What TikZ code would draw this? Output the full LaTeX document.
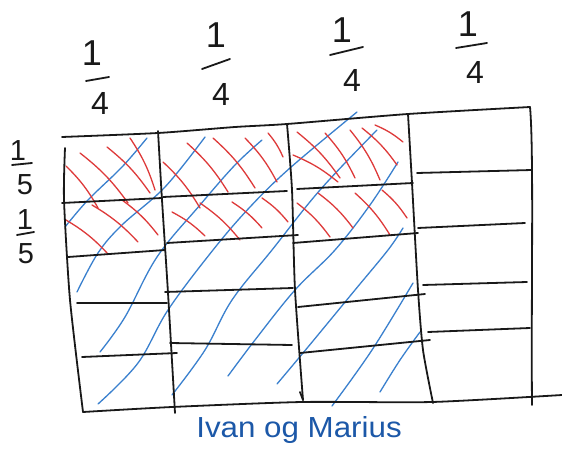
\documentclass[tikz,border=0pt]{standalone}
\usepackage{fontspec}
\usepackage{graphicx}
\setmainfont{Liberation Sans}
\definecolor{inkblack}{RGB}{25,25,25}
\definecolor{hatchred}{RGB}{222,58,58}
\definecolor{hatchblue}{RGB}{58,128,206}
\definecolor{captionblue}{RGB}{28,88,168}
\tikzset{
  gridline/.style={draw=inkblack,line width=1.8pt,line cap=round,line join=round},
  redhatch/.style={draw=hatchred,line width=1.3pt,line cap=round},
  bluehatch/.style={draw=hatchblue,line width=1.3pt,line cap=round},
  numtext/.style={inner sep=0pt,text=inkblack,font=\fontsize{36}{36}\selectfont},
  dentext/.style={inner sep=0pt,text=inkblack,font=\fontsize{32}{32}\selectfont},
  sidetext/.style={inner sep=0pt,text=inkblack,font=\fontsize{29}{29}\selectfont},
  fracbar/.style={draw=inkblack,line width=1.8pt,line cap=round},
}
\begin{document}
\begin{tikzpicture}[x=1pt,y=-1pt]
\useasboundingbox (0,0) rectangle (562,449);
\fill[white] (0,0) rectangle (562,449);

% ---- blue hatching
\draw[bluehatch] plot[smooth,tension=0.6] coordinates {(65,227) (88,200) (122,167) (147,138)};
\draw[bluehatch] plot[smooth,tension=0.6] coordinates {(77,292) (98,253) (122,225) (165,187) (205,137)};
\draw[bluehatch] plot[smooth,tension=0.6] coordinates {(100,352) (125,317) (157,257) (200,205) (235,165) (262,140)};
\draw[bluehatch] plot[smooth,tension=0.6] coordinates {(98,404) (138,363) (168,310) (213,250) (250,207) (290,168) (357,112)};
\draw[bluehatch] plot[smooth,tension=0.6] coordinates {(172,395) (205,350) (232,300) (272,250) (320,190) (377,130)};
\draw[bluehatch] plot[smooth,tension=0.6] coordinates {(228,376) (255,340) (295,290) (335,250) (370,205) (398,162)};
\draw[bluehatch] plot[smooth,tension=0.6] coordinates {(277,384) (308,347) (355,290) (388,250) (403,228)};
\draw[bluehatch] plot[smooth,tension=0.6] coordinates {(332,406) (372,350) (413,283)};
\draw[bluehatch] plot[smooth,tension=0.6] coordinates {(380,392) (400,360) (420,332)};

% ---- red hatching
\foreach \xa/\ya/\xb/\yb in {
  66/166/98/208, 80/153/128/203, 107/147/150/193, 130/138/155/190,
  66/220/108/254, 92/205/138/242, 122/200/158/235,
  163/162/200/208, 187/143/228/192, 213/138/255/188, 245/138/277/182, 268/133/283/157,
  172/212/205/236, 200/203/240/240, 232/202/262/228, 262/198/288/222,
  293/155/338/182, 297/132/340/178, 325/133/355/178, 350/130/380/180, 362/128/397/165, 375/125/403/142,
  297/203/330/237, 318/193/353/228, 355/193/390/235, 382/190/407/218}
  \draw[redhatch] (\xa,\ya) to[bend left=8] (\xb,\yb);

% ---- grid outline
\draw[gridline] plot[smooth,tension=0.4] coordinates {(62,137) (158,133) (235,127) (287,124) (408,114) (530,107)};
\draw[gridline] (530,107) .. controls (534,150) and (531,300) .. (532,405);
\draw[gridline] plot[smooth,tension=0.4] coordinates {(83,412) (172,407) (302,402) (432,402) (562,395)};
\draw[gridline] plot[smooth,tension=0.4] coordinates {(65,148) (64,200) (70,300) (83,412)};
% column lines
\draw[gridline] plot[smooth,tension=0.4] coordinates {(158,131) (162,200) (168,293) (175,413)};
\draw[gridline] plot[smooth,tension=0.4] coordinates {(287,124) (292,190) (295,290) (303,400)};
\draw[gridline] (303,400) -- (300,392);
\draw[gridline] plot[smooth,tension=0.4] coordinates {(408,114) (412,183) (418,290) (423,350) (433,403)};
% row lines, column 1
\draw[gridline] (62,203) -- (162,198);
\draw[gridline] (68,257) -- (165,250);
\draw[gridline] (77,303) -- (167,303);
\draw[gridline] (82,357) -- (177,353);
% column 2
\draw[gridline] (163,197) -- (287,191);
\draw[gridline] (167,243) -- (298,235);
\draw[gridline] (165,292) -- (293,288);
\draw[gridline] (170,343) -- (292,345);
% column 3
\draw[gridline] (297,189) -- (413,183);
\draw[gridline] (293,243) -- (418,233);
\draw[gridline] (298,307) -- (425,294);
\draw[gridline] (300,353) -- (430,340);
% column 4
\draw[gridline] (417,173) -- (532,170);
\draw[gridline] (418,228) -- (525,223);
\draw[gridline] (423,285) -- (527,282);
\draw[gridline] (428,332) -- (530,328);

% ---- fractions on top
\node[numtext] (n1) at (92,53) {1};
\node[dentext] (d1) at (100,103) {4};
\draw[fracbar] (86,81) -- (109,77);
\node[numtext] (n2) at (216,35) {1};
\node[dentext] (d2) at (221,94) {4};
\draw[fracbar] (202,69) -- (230,59);
\node[numtext] (n3) at (342,30) {1};
\node[dentext] (d3) at (352,80) {4};
\draw[fracbar] (330,55) -- (363,47);
\node[numtext] (n4) at (468,24) {1};
\node[dentext] (d4) at (475,72) {4};
\draw[fracbar] (456,48) -- (487,43);

% ---- fractions on the left
\node[sidetext] (ln1) at (18,151) {1};
\node[sidetext] (ld1) at (25,185) {5};
\draw[fracbar] (12,165) -- (32,163);
\node[sidetext] (ln2) at (25,220) {1};
\node[sidetext] (ld2) at (26,254) {5};
\draw[fracbar] (17,235) -- (34,232);

% ---- caption
\node[anchor=base,inner sep=0pt,text=captionblue,font=\fontsize{29}{29}\selectfont] (cap) at (299,437) {\scalebox{1.08}[1]{Ivan og Marius}};
\end{tikzpicture}
\end{document}
